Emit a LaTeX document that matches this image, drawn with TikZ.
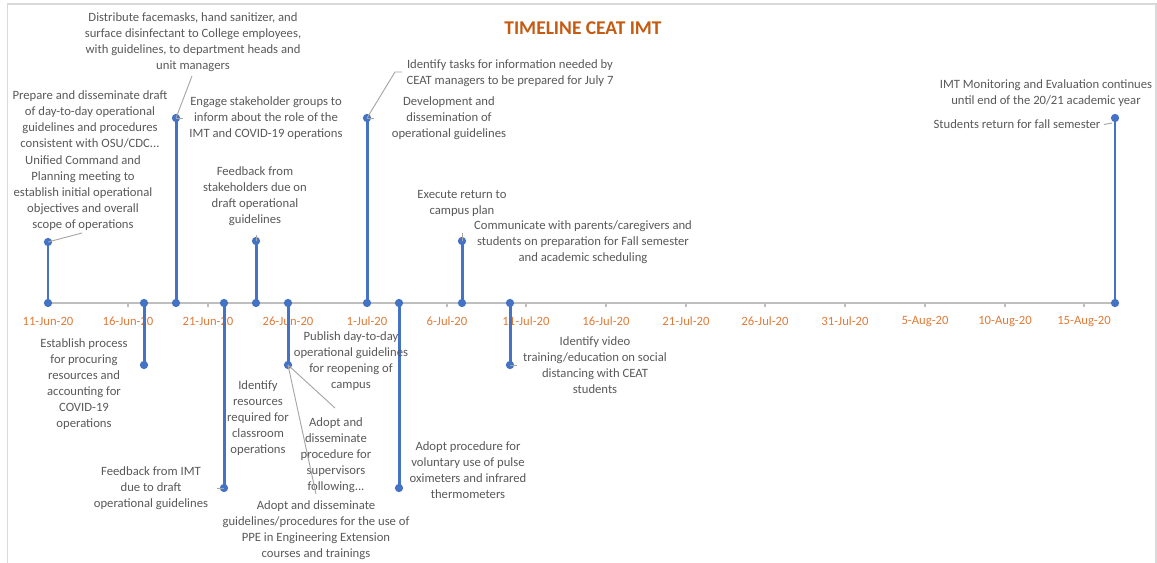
\documentclass[tikz,border=0pt]{standalone}
\usepackage{fontspec}
\setmainfont{Carlito}
\definecolor{txtgray}{HTML}{595959}
\definecolor{axisgray}{HTML}{BFBFBF}
\definecolor{framegray}{HTML}{D9D9D9}
\definecolor{leadgray}{HTML}{A6A6A6}
\definecolor{stemblue}{HTML}{4472C4}
\definecolor{datorange}{HTML}{E07B39}
\definecolor{titleorange}{HTML}{C55A11}
\tikzset{
  lbl/.style={inner sep=0pt, align=center, text=txtgray, font=\fontsize{9.5}{12}\selectfont},
  datelbl/.style={inner sep=0pt, text=datorange, font=\fontsize{9.5}{12}\selectfont},
  stem/.style={draw=stemblue, line width=2.25pt},
  thinstem/.style={draw=stemblue, line width=1.1pt},
  leader/.style={draw=leadgray, line width=0.7pt},
  tickmark/.style={draw=axisgray, line width=0.9pt},
  dot/.style={fill=stemblue}
}
\begin{document}
\begin{tikzpicture}[x=0.75pt,y=-0.75pt]
\useasboundingbox (0,0) rectangle (1157,563);
\fill[white] (0,0) rectangle (1157,563);
% frame
\draw[framegray, line width=0.8pt] (7.5,563) -- (7.5,4) -- (1156,4) -- (1156,563);

% title
\node[inner sep=0pt, text=titleorange, font=\fontsize{14.6}{17}\bfseries\selectfont] (title) at (583,28) {TIMELINE CEAT IMT};

% time axis
\coordinate (axL) at (48,303);
\coordinate (axR) at (1115,303);
\draw[axisgray, line width=1.1pt] (axL) -- (axR);
\foreach \x/\d [count=\i] in {48/11-Jun-20,128/16-Jun-20,208/21-Jun-20,288/26-Jun-20,367/1-Jul-20,447/6-Jul-20,526/11-Jul-20,606/16-Jul-20,686/21-Jul-20,765/26-Jul-20,845/31-Jul-20,925/5-Aug-20,1005/10-Aug-20,1084/15-Aug-20}{
  \coordinate (tk\i) at (\x,303);
  \coordinate (tb\i) at (\x,307);
  \draw[tickmark] (tk\i) -- (tb\i);
  \node[datelbl] (d\i) at (\x,321) {\d};
}

% stems: axis point a, tip t
\foreach \n/\x/\y in {1/48/242,2/144/365,3/176/118,4/224/488,5/256/241,6/288/365,7/367/118,8/399/488,9/462/241,10/510/365,11/1115/118}{
  \coordinate (a\n) at (\x,303);
  \coordinate (t\n) at (\x,\y);
}
\draw[thinstem] (a1) -- (t1);
\draw[thinstem] (a11) -- (t11);
\foreach \n in {2,...,10}{ \draw[stem] (a\n) -- (t\n); }
\foreach \n in {1,...,11}{
  \fill[dot] (a\n) circle (3.1pt);
  \fill[dot] (t\n) circle (3.1pt);
}

% labels above the axis
\node[lbl] (A) at (83,193) {Unified Command and\\Planning meeting to\\establish initial operational\\objectives and overall\\scope of operations};
\node[lbl] (B) at (90,119) {Prepare and disseminate draft\\of day-to-day operational\\guidelines and procedures\\consistent with OSU/CDC...};
\node[lbl] (C) at (193,42) {Distribute facemasks, hand sanitizer, and\\surface disinfectant to College employees,\\with guidelines, to department heads and\\unit managers};
\node[lbl] (D) at (266,118.5) {Engage stakeholder groups to\\inform about the role of the\\IMT and COVID-19 operations};
\node[lbl] (E) at (255,196) {Feedback from\\stakeholders due on\\draft operational\\guidelines};
\node[lbl] (F) at (510,73.5) {Identify tasks for information needed by\\CEAT managers to be prepared for July 7};
\node[lbl] (G) at (449,118.5) {Development and\\dissemination of\\operational guidelines};
\node[lbl] (H) at (462,203) {Execute return to\\campus plan};
\node[lbl] (I) at (583,242.5) {Communicate with parents/caregivers and\\students on preparation for Fall semester\\and academic scheduling};
\node[lbl] (J) at (1046,93.5) {IMT Monitoring and Evaluation continues\\until end of the 20/21 academic year};
\node[lbl] (K) at (1017,124.5) {Students return for fall semester};

% labels below the axis
\node[lbl] (L) at (84,384.5) {Establish process\\for procuring\\resources and\\accounting for\\COVID-19\\operations};
\node[lbl] (M) at (151,488) {Feedback from IMT\\due to draft\\operational guidelines};
\node[lbl] (N) at (258,418) {Identify\\resources\\required for\\classroom\\operations};
\node[lbl] (O) at (351,361.5) {Publish day-to-day\\operational guidelines\\for reopening of\\campus};
\node[lbl] (P) at (336,455) {Adopt and\\disseminate\\procedure for\\supervisors\\following...};
\node[lbl] (Q) at (316,530) {Adopt and disseminate\\guidelines/procedures for the use of\\PPE in Engineering Extension\\courses and trainings};
\node[lbl] (R) at (468,470) {Adopt procedure for\\voluntary use of pulse\\oximeters and infrared\\thermometers};
\node[lbl] (S) at (595,365.5) {Identify video\\training/education on social\\distancing with CEAT\\students};

% leader lines from stem tips to their labels
\coordinate (lA) at (82,233);
\coordinate (lC) at (192,76);
\coordinate (lD) at (183,118);
\coordinate (lE) at (256,235);
\coordinate (lM) at (217,488);
\coordinate (lP) at (335,408);
\coordinate (lQ) at (316,494);
\coordinate (lF1) at (395,72);
\coordinate (lF2) at (402,72);
\coordinate (lG) at (374,118);
\coordinate (lI) at (462,233);
\coordinate (lS) at (517,365);
\coordinate (lK1) at (1104,124.5);
\coordinate (lK2) at (1112,123);
\draw[leader] (t1) -- (lA);
\draw[leader] (t3) -- (lC);
\draw[leader] (t3) -- (lD);
\draw[leader] (t5) -- (lE);
\draw[leader] (t4) -- (lM);
\draw[leader] (t6) -- (lP);
\draw[leader] (t6) -- (lQ);
\draw[leader] (t7) -- (lF1) -- (lF2);
\draw[leader] (t7) -- (lG);
\draw[leader] (t9) -- (lI);
\draw[leader] (t10) -- (lS);
\draw[leader] (lK1) -- (lK2);
\end{tikzpicture}
\end{document}
